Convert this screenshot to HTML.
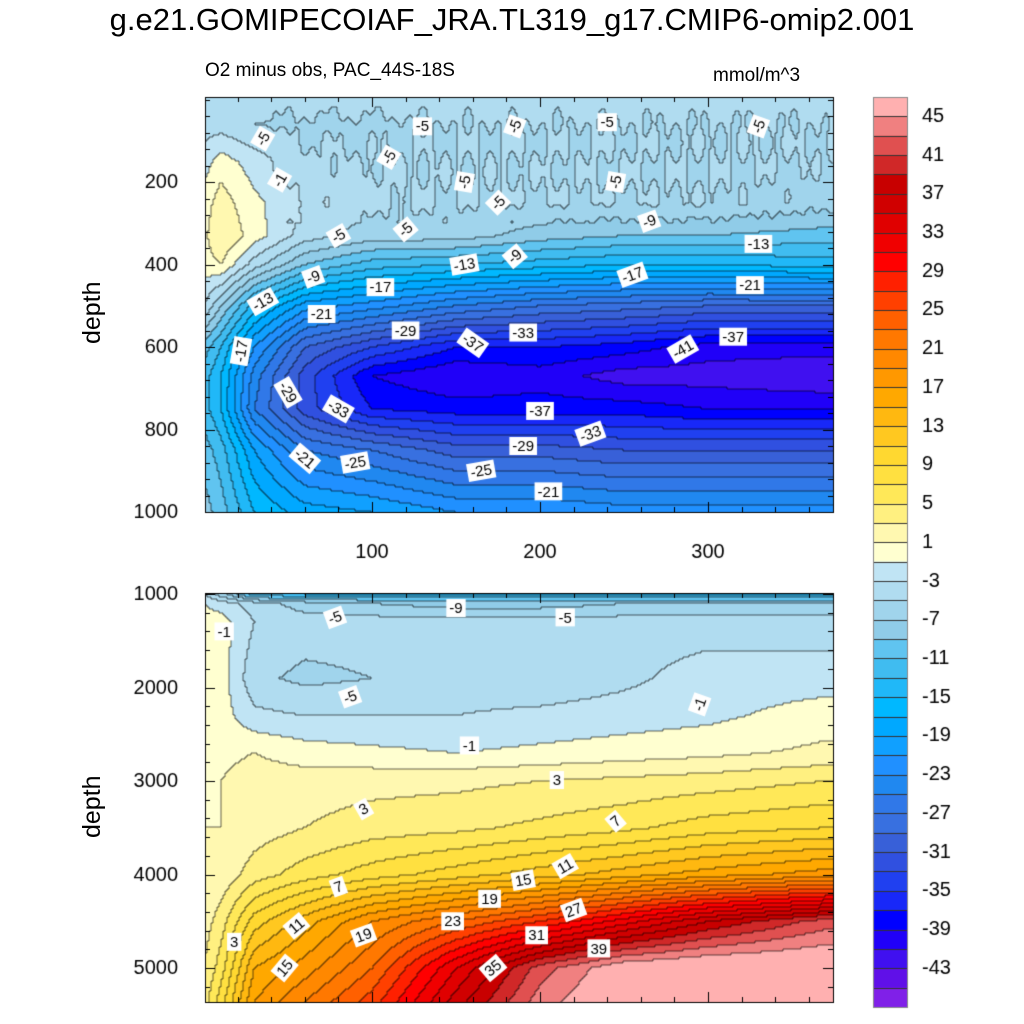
<!DOCTYPE html>
<html><head><meta charset="utf-8"><style>
body{margin:0;background:#fff;width:1024px;height:1024px;overflow:hidden;font-family:"Liberation Sans",sans-serif}
#wrap{position:relative;width:1024px;height:1024px}
.t{position:absolute;white-space:nowrap;color:#000}
canvas{position:absolute;left:0;top:0}
</style></head><body><div id="wrap">
<canvas id="cv" width="1024" height="1024"></canvas>
<div class="t" style="left:0;width:1024px;text-align:center;top:2px;font-size:31px">g.e21.GOMIPECOIAF_JRA.TL319_g17.CMIP6-omip2.001</div>
<div class="t" style="left:205px;top:60px;font-size:19px">O2 minus obs, PAC_44S-18S</div>
<div class="t" style="left:713px;top:65px;font-size:19px">mmol/m^3</div>
<div class="t" style="left:78px;top:344px;font-size:25px;transform:rotate(-90deg);transform-origin:left top">depth</div>
<div class="t" style="left:78px;top:838px;font-size:25px;transform:rotate(-90deg);transform-origin:left top">depth</div>
</div>
<script>
const xs=[0,10,30,60,100,150,200,250,300,370];
const topDepths=[0,60,150,250,330,400,500,600,670,750,850,1000];
const topValues=[
[-3,-3,-4,-4,-4,-4,-4,-4,-4,-4],
[-4,-4,-5,-5.5,-5.5,-5,-5,-5,-5,-5],
[-2,0,-2,-4.5,-5,-5,-5,-5,-5,-5],
[0,2,-0.5,-3,-4.5,-5,-5,-5,-5,-6],
[0.5,3,0,-4,-6,-6,-8,-9,-9,-10],
[0,1,-4,-9,-12,-13,-14,-15,-15,-14],
[-3,-7,-14,-20,-22,-25,-27,-28,-29,-29],
[-10,-13,-21,-29,-33,-37,-37,-38,-40,-40],
[-12,-15,-24,-32,-39,-41,-40,-42,-42,-43],
[-12,-15,-25,-32,-37,-38,-38,-38,-39,-39],
[-10,-12,-19,-25,-27,-30,-30,-31,-31,-31],
[-8,-10,-15,-18,-19,-21,-21,-22,-22,-22]];
const botDepths=[1000,1100,1300,1900,2300,2700,3000,3500,4000,4500,5000,5360];
const botValues=[
[-3,-6,-12,-13,-13,-13,-13,-13,-13,-13],
[-1,-2,-4,-6,-7,-8,-8,-7,-7,-7],
[0,0,-3,-4,-4,-4,-4,-4,-4,-4],
[0,0,-4.5,-5.5,-5,-4,-4.5,-3.5,-2,-2],
[0.5,0,-2.5,-3,-3,-3,-2.5,-2,-1.5,0],
[0.5,0.5,1,0,-0.5,-1,-0.5,0,0.5,1.5],
[1,1,2,2,2.3,2.5,3,3.5,4,5],
[1,1,2,3,4,4.5,5.5,6.5,8,9],
[1,1.5,4,6,8,10,12,14,16,18],
[2,4,10,14,19,23,27,32,37,42],
[3,6,15,18,23,33,42,47,48,48],
[4,8,17,21,26,36,44,48,49,49]];
const palette=["#ffb0b0","#f08080","#e05050","#d02828","#c80000","#d00000","#e00000","#f00000","#ff0000","#ff2000","#ff4000","#ff6000","#ff7800","#ff8800","#ff9800","#ffa800","#ffb810","#ffc820","#ffd830","#ffe040","#ffe858","#fff080","#fff8b0","#ffffd0","#c0e4f4","#b0dcf0","#a0d4ec","#90cce8","#60c4f0","#40bcf0","#20b8f8","#00b8ff","#00a8ff","#10a0ff","#2090ff","#2088f0","#3078e8","#3870e0","#3860d8","#3050e0","#2040f0","#1828f8","#0000ff","#2000f8","#4010f0","#6010e8","#8020e8"];
const cbTicks=[45,41,37,33,29,25,21,17,13,9,5,1,-3,-7,-11,-15,-19,-23,-27,-31,-35,-39,-43];
const xTicks=[100,200,300];
const topYTicks=[200,400,600,800,1000];
const botYTicks=[1000,2000,3000,4000,5000];
const topLabels=[["-5",35,95,-60],["-5",130,65,0],["-5",185,65,-70],["-5",240,55,0],["-5",330,65,-70],["-5",110,140,-60],["-1",45,195,-60],["-5",155,200,-80],["-5",175,250,-45],["-5",245,200,-80],["-5",80,330,-30],["-5",120,315,-40],["-9",265,295,-20],["-9",65,430,-20],["-13",155,400,-10],["-9",185,380,-40],["-13",330,350,0],["-13",35,490,-30],["-17",105,455,0],["-17",255,425,-20],["-21",70,520,0],["-21",325,450,0],["-29",120,560,0],["-37",160,590,35],["-33",190,565,0],["-41",285,605,-30],["-37",315,575,0],["-17",22,610,-80],["-29",50,710,60],["-33",80,750,30],["-37",200,755,0],["-33",230,810,-20],["-29",190,840,0],["-21",60,870,40],["-25",90,880,-10],["-25",165,900,-10],["-21",205,950,0]];
const botLabels=[["-1",12,1400,0],["-5",78,1250,-20],["-9",150,1150,0],["-5",215,1250,0],["-5",87,2100,-20],["-1",295,2180,-70],["-1",158,2620,0],["3",210,2990,0],["3",95,3300,-30],["7",245,3430,-40],["7",80,4130,-20],["11",215,3910,-30],["15",190,4060,-10],["19",170,4260,0],["23",148,4500,0],["27",220,4380,-20],["31",198,4650,0],["39",235,4790,0],["35",172,5000,-40],["11",55,4550,-40],["19",95,4650,-20],["3",18,4720,0],["15",48,5000,-50]];

const cv=document.getElementById('cv');

const ctx=cv.getContext('2d');
const L=205,R=833;
function px(x){return 204+x*1.68;}
function pyTop(d){return 99.5+d*0.4125;}
function pyBot(d){return 594+(d-1000)*0.0935;}
function seg(arr,v){let i=0;while(i<arr.length-2&&v>arr[i+1])i++;let t=(v-arr[i])/(arr[i+1]-arr[i]);t=Math.max(0,Math.min(1,t));return [i,t];}
function field(depths,vals,x,d){const [i,tx]=seg(xs,x);const [j,ty]=seg(depths,d);
const a=vals[j][i],b=vals[j][i+1],c=vals[j+1][i],e=vals[j+1][i+1];
return (a*(1-tx)+b*tx)*(1-ty)+(c*(1-tx)+e*tx)*ty;}
function idx(v){let k=Math.floor((49-v)/2);return Math.max(1,Math.min(47,k))-1;}
function drawPanel(T,B,depthOf,depths,vals,wig){
const s=2;const nx=Math.ceil((R-L)/s),ny=Math.ceil((B-T)/s);const g=[];
for(let j=0;j<ny;j++){g.push([]);for(let i=0;i<nx;i++){const x=(L+i*s+1-204)/1.68;const d=depthOf(T+j*s+1);
let v=field(depths,vals,x,d);if(wig&&d<300&&x>40){v+=0.5*Math.sin(x*0.23)*Math.sin(d*0.045)+0.3*Math.sin(x*0.71);} g[j].push(idx(v));}}
for(let j=0;j<ny;j++)for(let i=0;i<nx;i++){ctx.fillStyle=palette[g[j][i]];ctx.fillRect(L+i*s,T+j*s,s,s);}
ctx.fillStyle='rgba(0,0,0,0.6)';
for(let j=0;j<ny;j++)for(let i=0;i<nx;i++){
if(i<nx-1&&g[j][i]!==g[j][i+1])ctx.fillRect(L+i*s+s-0.5,T+j*s,1,s);
if(j<ny-1&&g[j][i]!==g[j+1][i])ctx.fillRect(L+i*s,T+j*s+s-0.5,s,1);}
}
drawPanel(97,512,p=>(p-99.5)/0.4125,topDepths,topValues,true);
drawPanel(593,1002,p=>1000+(p-594)/0.0935,botDepths,botValues,false);
function labels(list,yf){ctx.font='15px "Liberation Sans", sans-serif';ctx.textAlign='center';ctx.textBaseline='middle';
for(const [t,x,d,a] of list){const X=px(x),Y=yf(d);ctx.save();ctx.translate(X,Y);ctx.rotate(a*Math.PI/180);
const w=ctx.measureText(t).width+6;ctx.fillStyle='#fff';ctx.fillRect(-w/2,-9,w,18);ctx.fillStyle='#000';ctx.fillText(t,0,1);ctx.restore();}}
labels(topLabels,pyTop);labels(botLabels,pyBot);
ctx.strokeStyle='#000';ctx.lineWidth=1;ctx.fillStyle='#000';
function frame(T,B,yf,yt,minor){ctx.strokeRect(L+0.5,T+0.5,R-L,B-T);
ctx.font='20px "Liberation Sans", sans-serif';ctx.textAlign='right';ctx.textBaseline='middle';
for(const v of minor){const y=Math.round(yf(v))+0.5;if(y<T||y>B)continue;ctx.beginPath();ctx.moveTo(L,y);ctx.lineTo(L+5,y);ctx.moveTo(R,y);ctx.lineTo(R-5,y);ctx.stroke();}
for(const v of yt){const y=Math.round(yf(v))+0.5;ctx.beginPath();ctx.moveTo(L,y);ctx.lineTo(L+10,y);ctx.moveTo(R,y);ctx.lineTo(R-10,y);ctx.stroke();ctx.fillStyle='#000';ctx.fillText(String(v),178,y);}
for(let x=20;x<=370;x+=20){const X=Math.round(px(x))+0.5;const big=x%100===0;ctx.beginPath();ctx.moveTo(X,T);ctx.lineTo(X,T+(big?10:5));ctx.moveTo(X,B);ctx.lineTo(X,B-(big?10:5));ctx.stroke();}}
const tm=[];for(let d=0;d<=1000;d+=40)tm.push(d);
const bm=[];for(let d=1000;d<=5400;d+=200)bm.push(d);
frame(97,512,pyTop,topYTicks,tm);frame(593,1002,pyBot,botYTicks,bm);
ctx.textAlign='center';ctx.textBaseline='middle';ctx.font='20px "Liberation Sans", sans-serif';ctx.fillStyle='#000';
for(const v of xTicks)ctx.fillText(String(v),px(v),552);
const cbT=97,cbB=1007,bh=(cbB-cbT)/47;
for(let k=0;k<47;k++){ctx.fillStyle=palette[k];ctx.fillRect(873,cbT+k*bh,34,bh+0.5);}
ctx.strokeStyle='#333';for(let k=1;k<47;k++){const y=Math.round(cbT+k*bh)+0.5;ctx.beginPath();ctx.moveTo(873,y);ctx.lineTo(907,y);ctx.stroke();}
ctx.strokeStyle='#888';ctx.strokeRect(873.5,cbT+0.5,34,cbB-cbT);
ctx.fillStyle='#000';ctx.textAlign='left';ctx.font='20px "Liberation Sans", sans-serif';
for(const v of cbTicks){const k=(47-v)/2;ctx.fillText(String(v),922,cbT+k*bh);}
</script></body></html>
